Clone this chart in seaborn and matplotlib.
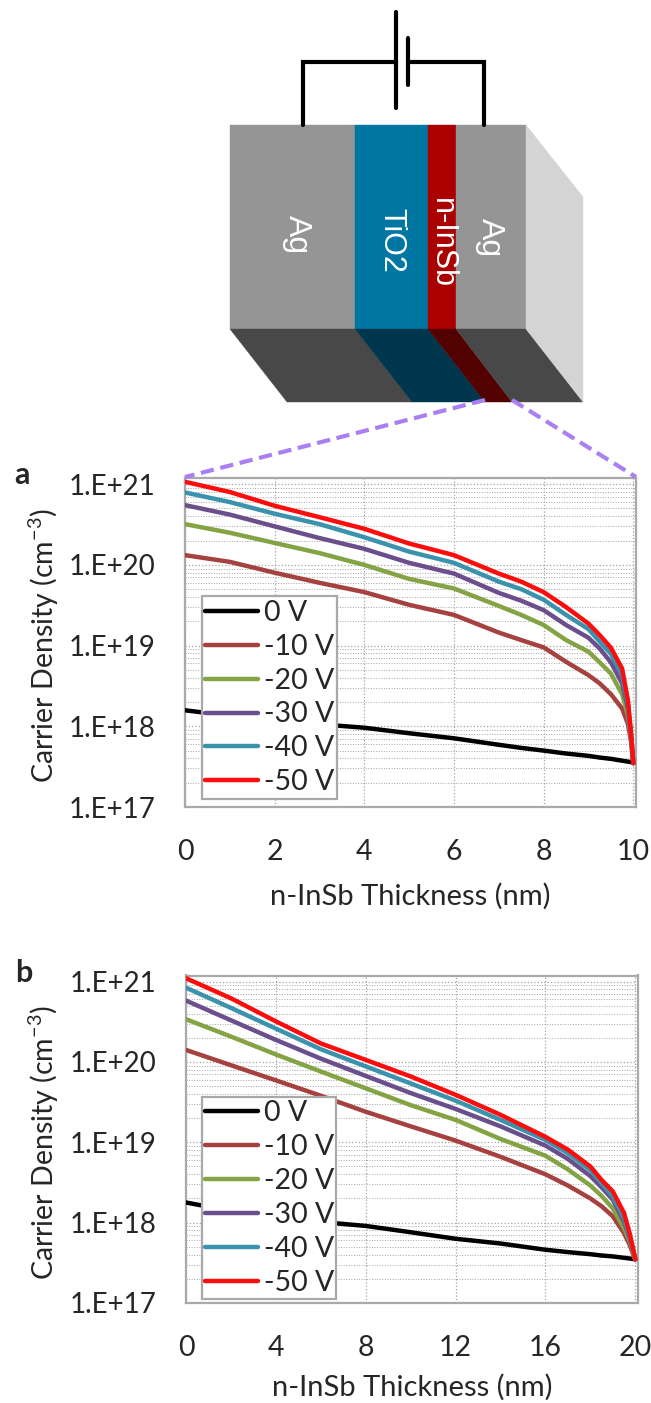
import numpy as np
import pandas as pd
import seaborn as sns
import matplotlib.pyplot as plt
from matplotlib.patches import Polygon

W, H = 651, 1403

voltages = ['0 V', '-10 V', '-20 V', '-30 V', '-40 V', '-50 V']
line_colors = ['#000000', '#a5423f', '#84a345', '#6b4f8c', '#3b92ac', '#fb0d0d']

# panel a, 10 nm film
x_a = [0, 1, 2, 3, 4, 5, 6, 7, 7.5, 8, 8.5, 9, 9.25, 9.5, 9.75, 9.88, 9.95, 10]
a_0 = [1.58e18, 1.35e18, 1.17e18, 1.06e18, 9.6e17, 8.2e17, 7.1e17, 5.9e17, 5.4e17, 5.0e17, 4.6e17, 4.3e17, 4.1e17, 3.95e17, 3.75e17, 3.65e17, 3.6e17, 3.5e17]
a_10 = [1.32e20, 1.09e20, 8.0e19, 6.0e19, 4.6e19, 3.2e19, 2.4e19, 1.45e19, 1.17e19, 9.5e18, 6.3e18, 4.3e18, 3.4e18, 2.5e18, 1.66e18, 1.07e18, 6.5e17, 3.5e17]
a_20 = [3.2e20, 2.5e20, 1.87e20, 1.4e20, 1.0e20, 6.7e19, 5.1e19, 3.1e19, 2.4e19, 1.8e19, 1.17e19, 8.4e18, 6.2e18, 4.5e18, 2.5e18, 1.37e18, 7.1e17, 3.5e17]
a_30 = [5.5e20, 4.2e20, 3.0e20, 2.15e20, 1.58e20, 1.06e20, 7.8e19, 4.5e19, 3.6e19, 2.75e19, 1.8e19, 1.25e19, 9.2e18, 6.2e18, 3.4e18, 1.66e18, 7.4e17, 3.5e17]
a_40 = [7.9e20, 6.0e20, 4.3e20, 3.2e20, 2.2e20, 1.46e20, 1.06e20, 6.2e19, 5.0e19, 3.7e19, 2.4e19, 1.6e19, 1.12e19, 7.9e18, 4.3e18, 1.9e18, 7.8e17, 3.5e17]
a_50 = [1.07e21, 8.0e20, 5.4e20, 3.9e20, 2.8e20, 1.84e20, 1.32e20, 7.8e19, 6.2e19, 4.6e19, 3.0e19, 1.87e19, 1.35e19, 9.4e18, 5.2e18, 2.1e18, 8.2e17, 3.5e17]

# panel b, 20 nm film
x_b = [0, 2, 4, 6, 8, 10, 12, 14, 16, 17, 18, 18.5, 19, 19.5, 19.75, 19.9, 20]
b_0 = [1.78e18, 1.4e18, 1.15e18, 1.02e18, 9.1e17, 7.6e17, 6.3e17, 5.5e17, 4.6e17, 4.3e17, 4.05e17, 3.9e17, 3.8e17, 3.65e17, 3.58e17, 3.53e17, 3.5e17]
b_10 = [1.41e20, 9.1e19, 5.9e19, 3.8e19, 2.4e19, 1.58e19, 1.05e19, 6.6e18, 4.0e18, 2.9e18, 2.0e18, 1.6e18, 1.2e18, 7.4e17, 5.3e17, 4.1e17, 3.5e17]
b_20 = [3.4e20, 2.07e20, 1.24e20, 7.6e19, 4.7e19, 2.9e19, 1.9e19, 1.1e19, 6.8e18, 4.6e18, 2.9e18, 2.15e18, 1.5e18, 8.5e17, 5.9e17, 4.3e17, 3.5e17]
b_30 = [5.8e20, 3.3e20, 1.88e20, 1.1e20, 6.7e19, 4.1e19, 2.6e19, 1.58e19, 9.1e18, 6.2e18, 3.8e18, 2.75e18, 1.93e18, 1.03e18, 6.4e17, 4.5e17, 3.5e17]
b_40 = [8.4e20, 4.7e20, 2.6e20, 1.44e20, 8.8e19, 5.4e19, 3.3e19, 1.9e19, 1.07e19, 7.3e18, 4.5e18, 3.1e18, 2.1e18, 1.14e18, 6.8e17, 4.6e17, 3.5e17]
b_50 = [1.1e21, 6.2e20, 3.2e20, 1.7e20, 1.06e20, 6.6e19, 3.9e19, 2.2e19, 1.17e19, 8.1e18, 5.0e18, 3.4e18, 2.45e18, 1.32e18, 7.4e17, 4.8e17, 3.5e17]

y_ticks = [1e17, 1e18, 1e19, 1e20, 1e21]
y_labels = ['1.E+17', '1.E+18', '1.E+19', '1.E+20', '1.E+21']
x_ticks_a = [0, 2, 4, 6, 8, 10]
x_ticks_b = [0, 4, 8, 12, 16, 20]


def long_table(x, series):
    rows = {"x": [], "y": [], "V": []}
    for name, vals in zip(voltages, series):
        rows["x"] += x
        rows["y"] += vals
        rows["V"] += [name] * len(x)
    return pd.DataFrame(rows)


def pix_axes(fig, left, top, right, bottom):
    return fig.add_axes([left / W, 1 - bottom / H, (right - left) / W, (bottom - top) / H])


def draw_panel(fig, box, df, xticks, xmax, ymax, leg_box, xpad):
    ax = pix_axes(fig, *box)
    sns.lineplot(data=df, x="x", y="y", hue="V", palette=line_colors, linewidth=3.2,
                 estimator=None, sort=False, ax=ax, zorder=3)
    ax.set_yscale('log')
    ax.set_xlim(0, xmax)
    ax.set_ylim(1e17, ymax)
    ax.set_yticks(y_ticks, y_labels)
    ax.set_xticks(xticks, [str(t) for t in xticks])
    ax.set_yticks([m * d for d in y_ticks[:-1] for m in range(2, 10)], minor=True)
    ax.tick_params(axis='y', which='minor', length=0, labelleft=False)
    ax.tick_params(axis='y', which='major', length=9, width=1.5, color='#a6a6a6', labelsize=20, pad=12)
    ax.tick_params(axis='x', which='major', length=10, width=1.5, color='#a6a6a6', labelsize=20.5, pad=13)
    ax.grid(True, which='major', color='#a4a4a4', linestyle=':', linewidth=0.9)
    ax.grid(True, which='minor', axis='y', color='#a4a4a4', linestyle=':', linewidth=0.7)
    ax.set_axisbelow(True)
    for s in ax.spines.values():
        s.set_color('#a9a9a9')
        s.set_linewidth(1.6)
    ax.set_xlabel('n-InSb Thickness (nm)', fontsize=21, labelpad=xpad)
    ax.set_ylabel('Carrier Density (cm$^{-3}$)', fontsize=20.5, labelpad=0)
    ax.yaxis.set_label_coords((61 - box[0]) / (box[2] - box[0]), 0.49)

    h, l = ax.get_legend_handles_labels()
    left, top, right, bottom = leg_box
    anchor = ((left - box[0]) / (box[2] - box[0]), (box[3] - bottom) / (box[3] - box[1]),
              (right - left) / (box[2] - box[0]), (bottom - top) / (box[3] - box[1]))
    leg = ax.legend(h, l, loc='center', bbox_to_anchor=anchor, mode='expand', fontsize=20.5,
                    frameon=True, fancybox=False, framealpha=1, edgecolor='#a9a9a9',
                    handlelength=1.85, handletextpad=0.22, labelspacing=0.28,
                    borderaxespad=0, borderpad=0.12)
    leg.get_frame().set_linewidth(1.6)
    leg.set_zorder(5)
    return ax


sns.set_style('white')
plt.rcParams['font.family'] = ['Lato', 'DejaVu Sans']
plt.rcParams['mathtext.default'] = 'regular'

fig = plt.figure(figsize=(W / 100, H / 100), dpi=100)

df_a = long_table(x_a, [a_0, a_10, a_20, a_30, a_40, a_50])
df_b = long_table(x_b, [b_0, b_10, b_20, b_30, b_40, b_50])
draw_panel(fig, (185, 477.5, 636, 807), df_a, x_ticks_a, 10.06, 1.21e21, (202, 594, 337, 801), 13)
draw_panel(fig, (186, 975.5, 637.5, 1303), df_b, x_ticks_b, 20.1, 1.19e21, (202, 1098, 336, 1298), 9)

# device schematic, drawn in pixel space
bg = fig.add_axes([0, 0, 1, 1], zorder=10)
bg.set_xlim(0, W)
bg.set_ylim(H, 0)
bg.axis('off')
bg.patch.set_alpha(0)

front = [(230, 355, '#959595'), (355, 428, '#0076a3'), (428, 456, '#aa0000'), (456, 526, '#959595')]
under = [(230, 355, 287, 412, '#484848'), (355, 428, 412, 485, '#00374f'),
         (428, 456, 485, 512, '#520000'), (456, 526, 512, 583, '#484848')]
for x0, x1, c in front:
    bg.add_patch(Polygon([(x0, 125), (x1, 125), (x1, 329), (x0, 329)], fc=c, ec=c, lw=0.3))
for x0, x1, x2, x3, c in under:
    bg.add_patch(Polygon([(x0, 329), (x1, 329), (x3, 402), (x2, 402)], fc=c, ec=c, lw=0.3))
bg.add_patch(Polygon([(526, 125), (583, 197), (583, 402), (526, 329)], fc='#d4d4d4', ec='#d4d4d4', lw=0.3))

bg.plot([303, 303, 396], [125, 62, 62], color='black', lw=3, solid_joinstyle='miter')
bg.plot([408, 484, 484], [62, 62, 125], color='black', lw=3, solid_joinstyle='miter')
bg.plot([396, 396], [12, 108], color='black', lw=3)
bg.plot([408, 408], [38, 85], color='black', lw=3)

for tx, ty, s, fs in [(297, 235, 'Ag', 23), (391, 240, 'TiO2', 22), (441.5, 243, 'n-InSb', 22), (490, 238, 'Ag', 23)]:
    bg.text(tx, ty, s, color='white', fontsize=fs, rotation=-90, ha='center', va='center',
            family=['Liberation Sans', 'DejaVu Sans'])

purple = '#a97ff2'
bg.plot([485, 185], [400, 477], color=purple, lw=3, linestyle=(0, (3.2, 1.6)))
bg.plot([512, 636], [400, 477], color=purple, lw=3, linestyle=(0, (3.2, 1.6)))

bg.text(22, 475, 'a', fontsize=22, fontweight='bold', ha='center', va='center')
bg.text(24, 973, 'b', fontsize=22, fontweight='bold', ha='center', va='center')

fig.savefig('out.png', dpi=100)
